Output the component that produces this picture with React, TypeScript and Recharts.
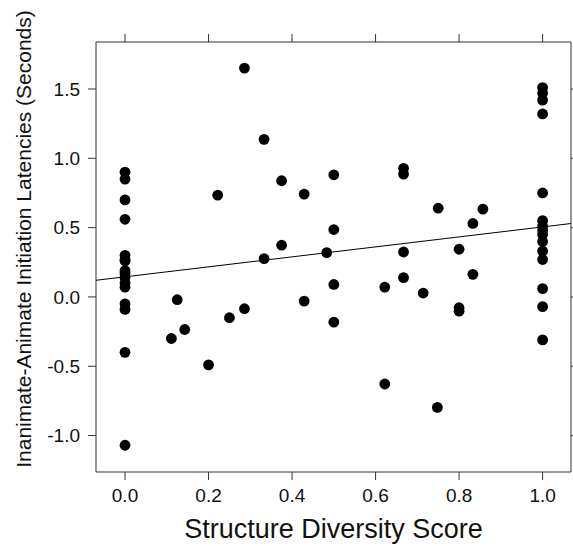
import {
  Label,
  Scatter,
  ScatterChart,
  XAxis,
  YAxis,
} from 'recharts'

// structure diversity score for each participant
const diversity = [
  0, 0, 0, 0, 0, 0, 0, 0, 0, 0, 0, 0, 0, 0, 0, 0,
  0.111, 0.125, 0.143, 0.2, 0.222, 0.25, 0.286, 0.286, 0.333, 0.333,
  0.375, 0.375, 0.429, 0.429, 0.483, 0.5, 0.5, 0.5, 0.5,
  0.622, 0.622, 0.667, 0.667, 0.667, 0.667, 0.714, 0.75, 0.748,
  0.8, 0.8, 0.8, 0.833, 0.833, 0.857,
  1, 1, 1, 1, 1, 1, 1, 1, 1, 1, 1, 1, 1, 1, 1,
]

// inanimate-animate initiation latency difference (s)
const latency = [
  0.9, 0.85, 0.7, 0.56, 0.3, 0.27, 0.26, 0.19, 0.17, 0.14, 0.1, 0.07, -0.05, -0.09, -0.4, -1.07,
  -0.3, -0.02, -0.235, -0.49, 0.734, -0.15, 1.651, -0.085, 1.137, 0.276,
  0.838, 0.373, 0.742, -0.03, 0.32, 0.881, 0.486, 0.09, -0.182,
  0.071, -0.628, 0.928, 0.886, 0.324, 0.139, 0.028, 0.64, -0.797,
  0.344, -0.078, -0.103, 0.53, 0.163, 0.633,
  1.51, 1.47, 1.42, 1.32, 0.75, 0.55, 0.51, 0.48, 0.45, 0.4, 0.33, 0.27, 0.06, -0.07, -0.31,
]

const xTicks = [0, 0.2, 0.4, 0.6, 0.8, 1]
const yTicks = [-1, -0.5, 0, 0.5, 1, 1.5]

// least squares fit
const fitIntercept = 0.145
const fitSlope = 0.36

const xDomain: [number, number] = [-0.0695, 1.068]
const yDomain: [number, number] = [-1.263, 1.839]

const points = diversity.map((x, i) => ({ x, y: latency[i] }))
const fitLine = xDomain.map((x) => ({ x, y: fitIntercept + fitSlope * x }))

// box edges (px) for the mirrored tick marks on the top and right sides
const boxTop = 42
const boxRight = 571
const tickLen = 8

const font = 'Arial, "Liberation Sans", sans-serif'
const axisColor = '#333'
const blankTick = { fontSize: 1, fill: 'none' }

// bottom tick label plus the matching tick on the top edge
const XTick = (props: any) => (
  <g>
    <text
      x={props.x}
      y={props.y}
      dy='0.71em'
      textAnchor='middle'
      fontSize={19}
      fill='#111'
      fontFamily={font}
    >
      {Number(props.payload.value).toFixed(1)}
    </text>
    <line
      x1={props.x}
      x2={props.x}
      y1={boxTop}
      y2={boxTop - tickLen}
      stroke={axisColor}
    />
  </g>
)

// left tick label plus the matching tick on the right edge
const YTick = (props: any) => (
  <g>
    <text
      x={props.x}
      y={props.y}
      dy='0.355em'
      textAnchor='end'
      fontSize={19}
      fill='#111'
      fontFamily={font}
    >
      {Number(props.payload.value).toFixed(1)}
    </text>
    <line
      x1={boxRight}
      x2={boxRight + tickLen}
      y1={props.y}
      y2={props.y}
      stroke={axisColor}
    />
  </g>
)

const Dot = (props: any) => (
  <circle cx={props.cx} cy={props.cy} r={5.4} fill='#000' />
)

export default function App() {
  return (
    <div style={{ position: 'absolute', left: 0, top: 0, background: '#fff' }}>
      <ScatterChart
        width={573}
        height={546}
        margin={{ top: 32, right: -8, bottom: 0, left: 0 }}
      >
        <XAxis
          type='number'
          dataKey='x'
          domain={xDomain}
          ticks={xTicks}
          allowDataOverflow
          interval={0}
          height={74}
          stroke={axisColor}
          tickSize={8}
          tickMargin={9}
          tick={XTick}
        >
          <Label
            value='Structure Diversity Score'
            position='insideBottom'
            offset={8}
            style={{ fontSize: 27, fill: '#111', fontFamily: font }}
          />
        </XAxis>
        <XAxis
          xAxisId='top'
          orientation='top'
          type='number'
          dataKey='x'
          domain={xDomain}
          ticks={xTicks}
          allowDataOverflow
          interval={0}
          height={10}
          stroke={axisColor}
          tickLine={false}
          tick={blankTick}
          tickFormatter={() => ''}
        />
        <YAxis
          type='number'
          dataKey='y'
          domain={yDomain}
          ticks={yTicks}
          allowDataOverflow
          interval={0}
          width={96}
          stroke={axisColor}
          tickSize={8}
          tickMargin={8}
          tick={YTick}
        >
          <Label
            content={() => (
              <text
                transform='translate(31,239) rotate(-90)'
                textAnchor='middle'
                fontSize={21}
                fill='#111'
                fontFamily={font}
              >
                Inanimate-Animate Initiation Latencies (Seconds)
              </text>
            )}
          />
        </YAxis>
        <YAxis
          yAxisId='right'
          orientation='right'
          type='number'
          dataKey='y'
          domain={yDomain}
          ticks={yTicks}
          allowDataOverflow
          interval={0}
          width={10}
          stroke={axisColor}
          tickLine={false}
          tick={blankTick}
          tickFormatter={() => ''}
        />
        <Scatter
          data={fitLine}
          xAxisId='top'
          yAxisId='right'
          line={{ stroke: '#000', strokeWidth: 1 }}
          shape={() => <g />}
          isAnimationActive={false}
        />
        <Scatter data={points} shape={Dot} isAnimationActive={false} />
      </ScatterChart>
    </div>
  )
}
